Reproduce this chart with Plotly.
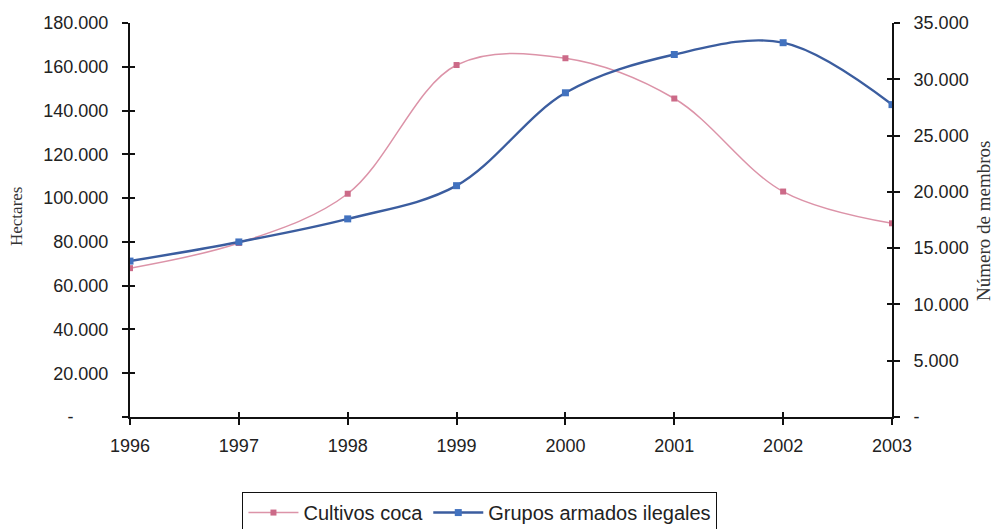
import plotly.graph_objects as go

years = [1996, 1997, 1998, 1999, 2000, 2001, 2002, 2003]
coca_ha = [68000, 79500, 102000, 160800, 163900, 145500, 103000, 88500]
grupos = [13850, 15550, 17600, 20550, 28800, 32200, 33250, 27750]

left_ticks = [0, 20000, 40000, 60000, 80000, 100000, 120000, 140000, 160000, 180000]
left_text = ["-" + "\u00a0" * 7, "20.000", "40.000", "60.000", "80.000", "100.000",
             "120.000", "140.000", "160.000", "180.000"]
right_ticks = [0, 5000, 10000, 15000, 20000, 25000, 30000, 35000]
right_text = ["-", "5.000", "10.000", "15.000", "20.000", "25.000", "30.000", "35.000"]

SANS = "Arial, Liberation Sans, sans-serif"
SERIF = "Liberation Serif, Times New Roman, serif"

fig = go.Figure()
fig.add_trace(go.Scatter(
    x=years, y=coca_ha, name="Cultivos coca", mode="lines+markers",
    line=dict(color="#dc93a8", width=1.5, shape="spline", smoothing=1),
    marker=dict(symbol="square", size=6, color="#cc6a88"),
    yaxis="y"))
fig.add_trace(go.Scatter(
    x=years, y=grupos, name="Grupos armados ilegales", mode="lines+markers",
    line=dict(color="#3b5d9f", width=2.4, shape="spline", smoothing=1),
    marker=dict(symbol="square", size=7, color="#4272bf"),
    yaxis="y2"))
# helper traces so the inside-tick axes get drawn
fig.add_trace(go.Scatter(x=[None], y=[None], xaxis="x2", yaxis="y3", showlegend=False, hoverinfo="skip"))
fig.add_trace(go.Scatter(x=[None], y=[None], xaxis="x2", yaxis="y4", showlegend=False, hoverinfo="skip"))

tickfont = dict(family=SANS, size=18, color="#222")
common = dict(showgrid=False, zeroline=False, automargin=False)
fig.update_layout(
    width=997, height=529,
    margin=dict(l=130, r=105, t=23, b=112, autoexpand=False),
    plot_bgcolor="white", paper_bgcolor="white",
    font=dict(family=SANS, color="#222"),
    showlegend=True,
    legend=dict(orientation="h", x=0.459, xanchor="center", y=-0.19, yanchor="top",
                bordercolor="#111", borderwidth=1.2,
                font=dict(family=SANS, size=20, color="#222"),
                itemwidth=50, tracegroupgap=0),
    xaxis=dict(range=[1996, 2003], tickvals=years, ticktext=[str(y) for y in years],
               showline=True, linecolor="#111", linewidth=2,
               ticks="outside", ticklen=6, tickwidth=1.5, tickcolor="#111",
               tickfont=tickfont, ticklabelstandoff=5, **common),
    xaxis2=dict(range=[1996, 2003], overlaying="x", tickvals=years, showticklabels=False,
                showline=False, anchor="y3",
                ticks="inside", ticklen=5, tickwidth=1.5, tickcolor="#111", **common),
    yaxis=dict(range=[0, 180000], tickvals=left_ticks, ticktext=left_text,
               showline=True, linecolor="#111", linewidth=2,
               ticks="outside", ticklen=6, tickwidth=1.5, tickcolor="#111",
               tickfont=tickfont, ticklabelstandoff=10, **common),
    yaxis2=dict(range=[0, 35000], tickvals=right_ticks, ticktext=right_text,
                overlaying="y", side="right",
                showline=True, linecolor="#111", linewidth=2,
                ticks="outside", ticklen=6, tickwidth=1.5, tickcolor="#111",
                tickfont=tickfont, ticklabelstandoff=10, **common),
    yaxis3=dict(range=[0, 180000], tickvals=left_ticks, showticklabels=False,
                overlaying="y", side="left", anchor="x2", showline=False,
                ticks="inside", ticklen=5, tickwidth=1.5, tickcolor="#111", **common),
    yaxis4=dict(range=[0, 35000], tickvals=right_ticks, showticklabels=False,
                overlaying="y", side="right", anchor="x2", showline=False,
                ticks="inside", ticklen=5, tickwidth=1.5, tickcolor="#111", **common),
    annotations=[
        dict(text="Hectares", xref="paper", yref="paper", x=(16 - 130) / 762,
             y=(417 - 216) / 394, textangle=-90, showarrow=False,
             xanchor="center", yanchor="middle",
             font=dict(family=SERIF, size=17, color="#333")),
        dict(text="Número de membros", xref="paper", yref="paper", x=(983 - 130) / 762,
             y=(417 - 221) / 394, textangle=-90, showarrow=False,
             xanchor="center", yanchor="middle",
             font=dict(family=SERIF, size=19, color="#333")),
    ],
)

fig.write_html("out.html", config={"displayModeBar": False},
               post_script="document.body.style.margin='0';document.body.style.overflow='hidden';")
